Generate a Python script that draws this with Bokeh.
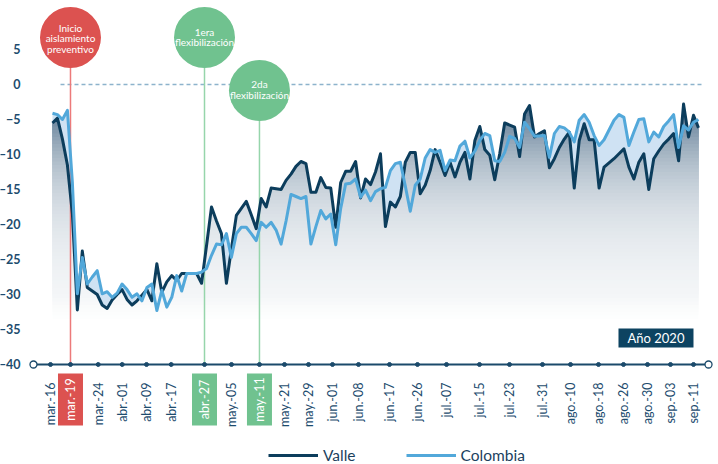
import numpy as np
from math import pi
from bokeh.plotting import figure
from bokeh.models import (FixedTicker, Range1d, Legend, LegendItem)
from bokeh.core.properties import value
from bokeh.embed import file_html
from bokeh.resources import INLINE

# ---------------- data ----------------
valle = [
    -5.5, -4.8, -7.8, -11.5, -18.5, -32.2, -23.8, -29.0, -29.5, -30.0,
    -31.5, -32.0, -30.8, -30.0, -29.3, -30.7, -31.5, -30.9, -30.1, -29.3,
    -30.9, -25.6, -29.7, -28.2, -27.3, -28.0, -27.0, -27.0, -27.0, -27.0,
    -28.4, -23.0, -17.5, -19.5, -21.3, -28.4, -23.5, -18.7, -17.7, -16.7,
    -18.6, -20.6, -16.3, -17.5, -14.8, -14.9, -15.0, -13.7, -12.8, -11.7,
    -11.0, -11.3, -15.4, -15.4, -13.3, -14.7, -14.8, -20.4, -14.0, -12.4,
    -12.4, -11.0, -16.2, -13.5, -14.3, -12.5, -9.9, -20.3, -16.8, -17.5,
    -16.0, -11.1, -9.7, -9.7, -15.6, -14.4, -12.3, -9.3, -11.1, -13.0,
    -11.1, -13.2, -11.1, -9.7, -13.5, -8.0, -6.0, -9.3, -10.1, -13.6,
    -9.9, -5.5, -5.8, -6.1, -10.3, -4.2, -3.0, -7.5, -7.0, -6.6,
    -11.9, -10.6, -9.0, -7.8, -6.8, -14.8, -8.0, -5.6, -7.9, -7.9,
    -14.8, -11.8, -11.2, -10.6, -9.9, -9.2, -11.8, -13.5, -11.1, -9.9,
    -15.0, -10.6, -9.5, -8.5, -7.8, -7.0, -10.9, -2.8, -7.5, -4.4, -6.2,
]
colombia = [
    -4.1, -4.3, -5.0, -3.7, -14.0, -29.9, -24.7, -28.5, -27.5, -26.6,
    -29.9, -29.6, -30.4, -29.8, -28.5, -29.3, -30.4, -29.9, -30.9, -29.0,
    -28.5, -32.3, -29.4, -31.8, -30.4, -27.3, -29.5, -27.0, -27.0, -27.0,
    -26.8, -26.3, -24.4, -22.8, -22.9, -21.3, -24.7, -21.3, -20.4, -20.4,
    -21.3, -22.3, -19.7, -20.4, -19.7, -20.8, -22.8, -19.5, -15.7, -16.0,
    -16.3, -16.0, -22.8, -20.3, -18.0, -19.2, -18.5, -22.9, -17.7, -14.2,
    -14.1, -13.5, -16.1, -15.1, -16.6, -15.3, -14.9, -14.7, -12.3, -11.3,
    -11.1, -14.5, -18.1, -14.4, -13.5, -10.5, -9.3, -9.7, -9.4, -12.3,
    -10.8, -10.9, -8.8, -8.1, -10.5, -9.5, -8.0, -7.0, -7.3, -10.9,
    -11.0, -9.7, -7.4, -7.7, -9.0, -5.4, -6.3, -7.4, -7.35, -7.3,
    -10.4, -7.0, -6.0, -6.2, -6.8, -8.2, -5.1, -4.3, -5.4, -7.3,
    -8.7, -7.9, -6.5, -5.1, -4.3, -4.7, -8.7, -6.8, -5.0, -4.9,
    -8.2, -6.8, -7.5, -6.0, -5.2, -4.3, -9.0, -5.9, -6.5, -5.4, -5.0,
]
tick_labels = ["mar.-16", "mar.-19", "mar.-24", "abr.-01", "abr.-09", "abr.-17",
               "abr.-27", "may.-05", "may.-11", "may.-21", "may.-29", "jun.-01",
               "jun.-08", "jun.-17", "jun.-26", "jul.-07", "jul.-15", "jul.-23",
               "jul.-31", "ago.-10", "ago.-18", "ago.-26", "ago.-30", "sep.-03",
               "sep.-11"]
y_ticks = [-40, -35, -30, -25, -20, -15, -10, -5, 0, 5]
events = ["Inicio\naislamiento\npreventivo", "1era\nflexibilización", "2da\nflexibilización"]
event_labels = ["mar.-19", "abr.-27", "may.-11"]
series_names = ["Valle", "Colombia"]
year_text = "Año 2020"

# ---------------- layout / style ----------------
tick_pos = [-0.40, 3.62, 9.20, 14.03, 18.92, 23.89, 30.59, 36.02, 41.65, 46.69,
            51.52, 56.35, 61.58, 67.82, 73.45, 79.29, 85.93, 91.97, 98.61,
            104.25, 109.88, 114.91, 119.74, 124.37, 129.00]
NAVY = "#0c3d5c"
LBLUE = "#52a8da"
RED = "#dc5250"
GREEN = "#70c28f"
TXT = "#1d4c6e"
FONT = "Lato"
BASE = -40
YAXIS_X = -4.629

x = list(range(len(valle)))

p = figure(width=718, height=464, x_range=Range1d(-10.465, 134.03),
           y_range=Range1d(-54.286, 12.0), output_backend="svg",
           toolbar_location=None, min_border_left=0, min_border_right=0,
           min_border_top=0, min_border_bottom=0)
p.xgrid.visible = False
p.ygrid.visible = False
p.outline_line_color = None
p.background_fill_color = "white"
p.border_fill_color = "white"

# gradient below Valle (stacked bands, bottom to top)
def fill_above(xs, ys, lo):
    px, py = [], []
    for i in range(len(xs)):
        if i > 0:
            y0, y1 = ys[i - 1], ys[i]
            if (y0 - lo) * (y1 - lo) < 0:
                t = (lo - y0) / (y1 - y0)
                px.append(xs[i - 1] + t * (xs[i] - xs[i - 1]))
                py.append(lo)
        px.append(xs[i])
        py.append(max(ys[i], lo))
    return px, py

base = np.array([16, 58, 96])
levels = np.arange(-34.0, -2.0, 0.5)
for lo in levels:
    mid = lo + 0.25
    a = float(min(0.68, 0.62 * 0.6 ** ((-5.0 - mid) / 5.0)))
    if mid < -30:
        a *= max(0.0, (mid + 34) / 4.0)
    c = (255 - a * (255 - base)).round().astype(int)
    col = "#%02x%02x%02x" % tuple(c)
    px, py = fill_above(x, valle, lo)
    p.varea(x=px, y1=[lo] * len(px), y2=py, fill_color=col, fill_alpha=1.0)

# light blue between lines where Colombia is above Valle
bx, b1, b2 = [], [], []
for i in range(len(x)):
    if i > 0:
        d0 = colombia[i - 1] - valle[i - 1]
        d1 = colombia[i] - valle[i]
        if d0 * d1 < 0:
            t = d0 / (d0 - d1)
            xc = x[i - 1] + t
            yc = valle[i - 1] + t * (valle[i] - valle[i - 1])
            bx.append(xc); b1.append(yc); b2.append(yc)
    bx.append(x[i]); b1.append(valle[i]); b2.append(max(valle[i], colombia[i]))
p.varea(x=bx, y1=b1, y2=b2, fill_color="#cfe2f3", fill_alpha=1.0)

# zero reference line
p.segment(x0=[1.61], y0=[0], x1=[131.0], y1=[0], line_color="#8db3cc",
          line_width=1.3, line_dash="4 3")

# event vertical lines
p.segment(x0=[3.62], y0=[2.43], x1=[3.62], y1=[BASE], line_color="#ec7a7a", line_width=1.5)
p.segment(x0=[30.59, 41.65], y0=[2.43, -5.14], x1=[30.59, 41.65], y1=[BASE, BASE],
          line_color="#96d5ab", line_width=1.5)

# series lines
rv = p.line(x, valle, line_color=NAVY, line_width=3, line_join="round")
rc = p.line(x, colombia, line_color=LBLUE, line_width=3, line_join="round")

# baseline axis with dots
p.segment(x0=[-3.824], y0=[BASE], x1=[132.02], y1=[BASE], line_color="#1b4a6b", line_width=2)
p.scatter(tick_pos, [BASE] * len(tick_pos), size=4, color="#1b4a6b")
p.scatter([-3.824, 132.02], [BASE, BASE], size=7, fill_color="white",
          line_color="#1b4a6b", line_width=1.3)

# event circles
p.scatter([3.62, 30.59, 41.65], [6.714, 6.714, -0.857], size=61,
          fill_color=[RED, GREEN, GREEN], line_color=None)
ev_x = [3.62, 3.62, 3.62, 30.59, 30.59, 41.65, 41.65]
ev_y = [8.14, 6.64, 5.14, 7.43, 6.0, 0.14, -1.43]
ev_t = []
for e in events:
    ev_t += e.split("\n")
p.text(ev_x, ev_y, text=ev_t, text_color="white", text_align="center",
       text_baseline="middle", text_font=value(FONT), text_font_size="10px")

# year box
p.rect([121.45], [-36.21], width=75, height=19, width_units="screen",
       height_units="screen", fill_color="#0d4361", line_color=None)
p.text([121.45], [-36.21], text=[year_text], text_color="white", text_align="center",
       text_baseline="middle", text_font=value(FONT), text_font_size="13px")

# axes
xa = p.xaxis[0]
xa.fixed_location = BASE
xa.ticker = FixedTicker(ticks=tick_pos)
xa.major_label_overrides = {tp: ("" if lab in event_labels else lab)
                            for tp, lab in zip(tick_pos, tick_labels)}
xa.axis_line_color = None
xa.major_tick_line_color = None
xa.minor_tick_line_color = None
xa.major_label_orientation = pi / 2
xa.major_label_standoff = 12
xa.major_label_text_font = FONT
xa.major_label_text_font_size = "12.5px"
xa.major_label_text_color = TXT

ya = p.yaxis[0]
ya.fixed_location = YAXIS_X
ya.ticker = FixedTicker(ticks=y_ticks)
ya.axis_line_color = None
ya.major_tick_line_color = None
ya.minor_tick_line_color = None
ya.major_label_standoff = 3
ya.major_label_text_font = FONT
ya.major_label_text_font_size = "12.5px"
ya.major_label_text_font_style = "bold"
ya.major_label_text_color = TXT

# highlighted x labels (coloured boxes with white text)
hx = [tick_pos[tick_labels.index(lab)] for lab in event_labels]
p.rect(hx, [-45.0] * 3, width=25, height=52, width_units="screen",
       height_units="screen", fill_color=[RED, GREEN, GREEN], line_color=None)
p.text(hx, [-45.0] * 3, text=event_labels, angle=pi / 2, text_color="white",
       text_align="center", text_baseline="middle", text_font=value(FONT),
       text_font_size="12.5px")

legend = Legend(items=[LegendItem(label=series_names[0], renderers=[rv]),
                       LegendItem(label=series_names[1], renderers=[rc])],
                orientation="horizontal", location=(268, 0), padding=0, margin=0,
                glyph_width=50, glyph_height=16, label_standoff=5, spacing=50,
                border_line_color=None, background_fill_alpha=0,
                label_text_font=FONT, label_text_font_size="15.5px",
                label_text_color="#1b3f5e")
p.add_layout(legend)

open("out.html", "w").write(file_html(p, INLINE))
